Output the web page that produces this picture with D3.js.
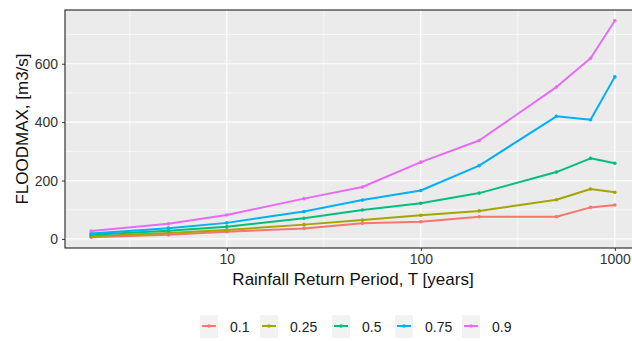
<!DOCTYPE html>
<html>
<head>
<meta charset="utf-8">
<script src="https://cdn.jsdelivr.net/npm/d3@7"></script>
<style>
  html, body { margin: 0; padding: 0; background: #fff; }
  svg { display: block; font-family: "Liberation Sans", Arial, sans-serif; }
</style>
</head>
<body>
<svg id="chart" width="632" height="341"></svg>
<script>
// Return periods (years) and peak flood per quantile level
const returnPeriods = [2, 5, 10, 25, 50, 100, 200, 500, 750, 1000];
const levels = ["0.1", "0.25", "0.5", "0.75", "0.9"];
const flood_0_1  = [6, 14, 25, 36, 54, 59, 76, 76, 108, 116];
const flood_0_25 = [9, 20, 31, 49, 65, 81, 96, 134, 171, 160];
const flood_0_5  = [14, 28, 42, 71, 99, 122, 157, 229, 276, 259];
const flood_0_75 = [19, 37, 55, 94, 133, 166, 251, 420, 408, 555];
const flood_0_9  = [27, 52, 82, 138, 178, 263, 337, 520, 619, 747];
const colors = ["#F8766D", "#A3A500", "#00BF7D", "#00B0F6", "#E76BF3"];
const xTicks = [10, 100, 1000];
const yTicks = [0, 200, 400, 600];

const seriesValues = [flood_0_1, flood_0_25, flood_0_5, flood_0_75, flood_0_9];
const series = levels.map((lvl, i) => ({
  level: lvl,
  color: colors[i],
  points: returnPeriods.map((t, j) => ({ t, v: seriesValues[i][j] }))
}));

const svg = d3.select("#chart");
const panel = { left: 65, top: 10, right: 641, bottom: 248 };

// 5% expansion on both axes (log space for x)
const lx = d3.extent(returnPeriods).map(Math.log10);
const dx = (lx[1] - lx[0]) * 0.05;
const allV = seriesValues.flat();
const ly = d3.extent(allV);
const dy = (ly[1] - ly[0]) * 0.05;

const x = d3.scaleLog()
  .domain([Math.pow(10, lx[0] - dx), Math.pow(10, lx[1] + dx)])
  .range([panel.left, panel.right]);
const y = d3.scaleLinear()
  .domain([ly[0] - dy, ly[1] + dy])
  .range([panel.bottom, panel.top]);

// Panel background
svg.append("rect")
  .attr("x", panel.left).attr("y", panel.top)
  .attr("width", panel.right - panel.left).attr("height", panel.bottom - panel.top)
  .attr("fill", "#EBEBEB");

// Minor grid: midpoints between breaks
const xMinor = [0.5, 1.5, 2.5, 3.5].map(e => Math.pow(10, e));
const yMinor = [100, 300, 500, 700];
const grid = svg.append("g");
grid.selectAll(".xm").data(xMinor).enter().append("line")
  .attr("x1", d => x(d)).attr("x2", d => x(d))
  .attr("y1", panel.top).attr("y2", panel.bottom)
  .attr("stroke", "#fff").attr("stroke-width", 0.6);
grid.selectAll(".ym").data(yMinor).enter().append("line")
  .attr("x1", panel.left).attr("x2", panel.right)
  .attr("y1", d => y(d)).attr("y2", d => y(d))
  .attr("stroke", "#fff").attr("stroke-width", 0.6);
grid.selectAll(".xM").data(xTicks).enter().append("line")
  .attr("x1", d => x(d)).attr("x2", d => x(d))
  .attr("y1", panel.top).attr("y2", panel.bottom)
  .attr("stroke", "#fff").attr("stroke-width", 1.2);
grid.selectAll(".yM").data(yTicks).enter().append("line")
  .attr("x1", panel.left).attr("x2", panel.right)
  .attr("y1", d => y(d)).attr("y2", d => y(d))
  .attr("stroke", "#fff").attr("stroke-width", 1.2);

// Series lines and points
const line = d3.line().x(d => x(d.t)).y(d => y(d.v));
const sg = svg.append("g").selectAll("g").data(series).enter().append("g");
sg.append("path")
  .attr("d", d => line(d.points))
  .attr("fill", "none")
  .attr("stroke", d => d.color)
  .attr("stroke-width", 2)
  .attr("stroke-linejoin", "round");
sg.selectAll("circle").data(d => d.points.map(p => ({ ...p, color: d.color })))
  .enter().append("circle")
  .attr("cx", d => x(d.t)).attr("cy", d => y(d.v))
  .attr("r", 1.8).attr("fill", d => d.color);

// Panel border
svg.append("rect")
  .attr("x", panel.left).attr("y", panel.top)
  .attr("width", panel.right - panel.left).attr("height", panel.bottom - panel.top)
  .attr("fill", "none").attr("stroke", "#222").attr("stroke-width", 1.1);

// Axes
const xAxis = d3.axisBottom(x).tickValues(xTicks).tickFormat(d3.format("d"))
  .tickSize(3).tickPadding(3);
const gx = svg.append("g").attr("transform", `translate(0,${panel.bottom})`).call(xAxis);
gx.select(".domain").remove();
gx.selectAll(".tick line").attr("stroke", "#333");
gx.selectAll(".tick text").attr("fill", "#333").attr("font-size", 14)
  .attr("font-family", "Liberation Sans, Arial, sans-serif");

const yAxis = d3.axisLeft(y).tickValues(yTicks).tickSize(3).tickPadding(4);
const gy = svg.append("g").attr("transform", `translate(${panel.left},0)`).call(yAxis);
gy.select(".domain").remove();
gy.selectAll(".tick line").attr("stroke", "#333");
gy.selectAll(".tick text").attr("fill", "#333").attr("font-size", 14)
  .attr("font-family", "Liberation Sans, Arial, sans-serif");

// Axis titles
svg.append("text")
  .attr("x", (panel.left + panel.right) / 2).attr("y", 285)
  .attr("text-anchor", "middle").attr("font-size", 17).attr("fill", "#111")
  .text("Rainfall Return Period, T [years]");
svg.append("text")
  .attr("transform", `translate(28,${(panel.top + panel.bottom) / 2}) rotate(-90)`)
  .attr("text-anchor", "middle").attr("font-size", 17).attr("fill", "#111")
  .text("FLOODMAX, [m3/s]");

// Legend
const legendX = [200, 260, 332, 395, 462];
const lg = svg.append("g").selectAll("g").data(series).enter().append("g")
  .attr("transform", (d, i) => `translate(${legendX[i]},315)`);
lg.append("rect").attr("width", 18).attr("height", 23).attr("fill", "#F2F2F2");
lg.append("line").attr("x1", 2).attr("x2", 16).attr("y1", 11).attr("y2", 11)
  .attr("stroke", d => d.color).attr("stroke-width", 2);
lg.append("circle").attr("cx", 9).attr("cy", 11).attr("r", 1.8).attr("fill", d => d.color);
lg.append("text").attr("x", 30).attr("y", 17).attr("font-size", 14).attr("fill", "#222")
  .text(d => d.level);
</script>
</body>
</html>
